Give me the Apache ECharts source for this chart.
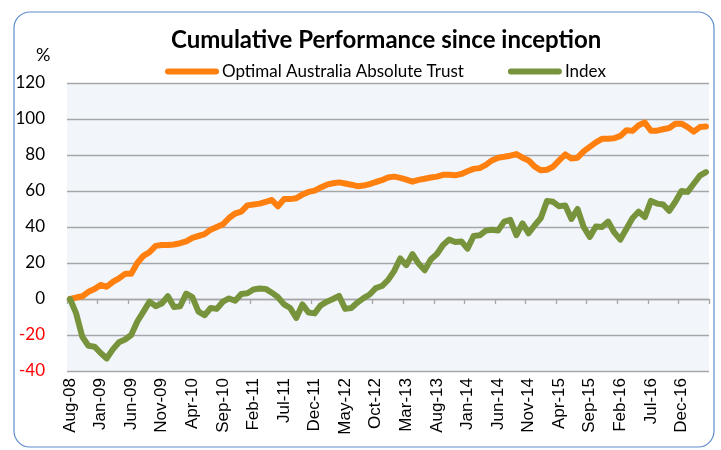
<!DOCTYPE html>
<html>
<head>
<meta charset="utf-8">
<script src="https://cdn.jsdelivr.net/npm/echarts@6/dist/echarts.min.js"></script>
<style>
  html, body { margin: 0; padding: 0; background: #fff; }
  #chart { width: 721px; height: 450px; }
</style>
</head>
<body>
<div id="chart"></div>
<script>
// monthly points, Aug-08 .. Apr-17
const monthNames = ['Jan', 'Feb', 'Mar', 'Apr', 'May', 'Jun', 'Jul', 'Aug', 'Sep', 'Oct', 'Nov', 'Dec'];
const startMonth = 7; // Aug
const startYear = 8;  // 2008
const monthCount = 105;

const trust = [
  0, 0.8, 1.5, 4, 5.5, 7.8, 6.8, 9.5, 11.5, 14,
  14, 20, 24, 26, 29.5, 30, 30, 30.3, 31, 32,
  34, 35, 36, 38.5, 40, 41.5, 45, 47.5, 48.5, 52,
  52.5, 53, 54, 55, 51.5, 55.5, 55.5, 56, 58, 59.5,
  60.2, 62, 63.5, 64.3, 64.8, 64.2, 63.5, 62.7, 63, 63.8,
  65, 66, 67.5, 68, 67.3, 66.3, 65.2, 66.2, 66.8, 67.5,
  68, 69, 69, 68.7, 69.5, 71, 72.3, 72.7, 74.5, 77,
  78.5, 79, 79.6, 80.5, 78.5, 77, 73.5, 71.5, 71.8, 73.5,
  77, 80.3, 78, 78.5, 82, 84.5, 87, 89, 89, 89.3,
  90.6, 93.7, 93.4, 96.5, 98, 93.5, 93.5, 94.3, 95, 97.4,
  97.4, 95.5, 93, 95.5, 95.8
];

const index = [
  0, -8, -21, -26, -26.5, -30, -33, -28, -24, -22.5,
  -20, -12.5, -7, -1.5, -4, -2.5, 1.5, -4.5, -4, 3,
  1, -7, -9, -5, -5.5, -1.5, 0.3, -1, 2.8, 3.2,
  5.3, 5.8, 5.6, 3.5, 1, -3, -5, -10.5, -3, -7.5,
  -8, -3.5, -1.5, 0, 1.7, -5.5, -5, -2, 0.5, 2.5,
  6, 7.2, 10.5, 15.5, 22.5, 18.8, 24.9, 19.7, 16, 22,
  25, 30, 33, 31.7, 32, 28, 35, 35.4, 38, 38.5,
  38, 43, 44, 35.5, 42, 36.5, 41, 45, 54.5, 54,
  51.5, 52, 44.5, 50, 40, 34.5, 40.3, 40, 43, 37,
  33, 39, 45, 48.5, 45.5, 54.5, 53, 52.5, 49, 54,
  60, 59.5, 64, 68.5, 70.5
];

const seriesNames = ['Optimal Australia Absolute Trust', 'Index'];
const seriesColors = ['#FF7F0F', '#77933C'];

const categories = [];
for (let k = 0; k < monthCount; k++) {
  const m = (startMonth + k) % 12;
  const y = startYear + Math.floor((startMonth + k) / 12);
  categories.push(monthNames[m] + '-' + String(y).padStart(2, '0'));
}

const chart = echarts.init(document.getElementById('chart'));

const legendIcon = 'path://M3,0 L51,0 A3,3 0 0 1 51,6 L3,6 A3,3 0 0 1 3,0 Z';

chart.setOption({
  animation: false,
  backgroundColor: '#fff',
  textStyle: { fontFamily: 'Lato' },
  title: {
    text: 'Cumulative Performance since inception',
    left: 166,
    top: 23,
    textStyle: { fontFamily: 'Lato', fontWeight: 'bold', fontSize: 24, color: '#000' }
  },
  legend: {
    left: 160,
    top: 58,
    itemWidth: 54,
    itemHeight: 6,
    itemGap: 44,
    icon: legendIcon,
    textStyle: { fontFamily: 'Lato', fontSize: 17, color: '#000', padding: [0, 0, 0, -2] },
    data: seriesNames
  },
  graphic: [
    {
      type: 'rect',
      shape: { x: 14, y: 12, width: 700, height: 435, r: 16 },
      style: { fill: 'none', stroke: '#5E8CCB', lineWidth: 1.2 },
      silent: true
    },
    {
      type: 'text',
      left: 36,
      top: 46,
      style: { text: '%', font: '18px Lato', fill: '#000' }
    }
  ],
  grid: {
    left: 67,
    right: 12,
    top: 83,
    bottom: 79,
    show: true,
    backgroundColor: '#F2F6FB',
    borderWidth: 0
  },
  xAxis: [
    {
      type: 'category',
      data: categories,
      boundaryGap: true,
      position: 'bottom',
      axisLine: { show: false, onZero: false },
      axisTick: { show: false },
      axisLabel: {
        interval: 4,
        rotate: 90,
        margin: 7,
        fontFamily: 'Liberation Sans',
        fontSize: 17,
        color: '#000'
      }
    },
    {
      type: 'category',
      data: categories,
      boundaryGap: true,
      position: 'bottom',
      axisLine: { show: true, onZero: true, onZeroAxisIndex: 0, lineStyle: { color: '#A6A6A6', width: 1.3 } },
      axisTick: { show: true, interval: 4, length: 5, lineStyle: { color: '#A6A6A6', width: 1.3 } },
      axisLabel: { show: false }
    }
  ],
  yAxis: {
    type: 'value',
    min: -40,
    max: 120,
    interval: 20,
    axisLine: { show: false },
    axisTick: { show: false },
    splitLine: { lineStyle: { color: '#A6A6A6', width: 1.3 } },
    axisLabel: {
      margin: 22,
      fontFamily: 'Lato',
      fontSize: 17,
      color: function (v) { return v < 0 ? '#FF0000' : '#000'; }
    }
  },
  series: [
    {
      name: seriesNames[0],
      type: 'line',
      data: trust,
      showSymbol: false,
      symbol: 'none',
      color: seriesColors[0],
      lineStyle: { width: 6, color: seriesColors[0], cap: 'round', join: 'round' }
    },
    {
      name: seriesNames[1],
      type: 'line',
      data: index,
      showSymbol: false,
      symbol: 'none',
      color: seriesColors[1],
      lineStyle: { width: 6, color: seriesColors[1], cap: 'round', join: 'round' }
    }
  ]
});
</script>
</body>
</html>
